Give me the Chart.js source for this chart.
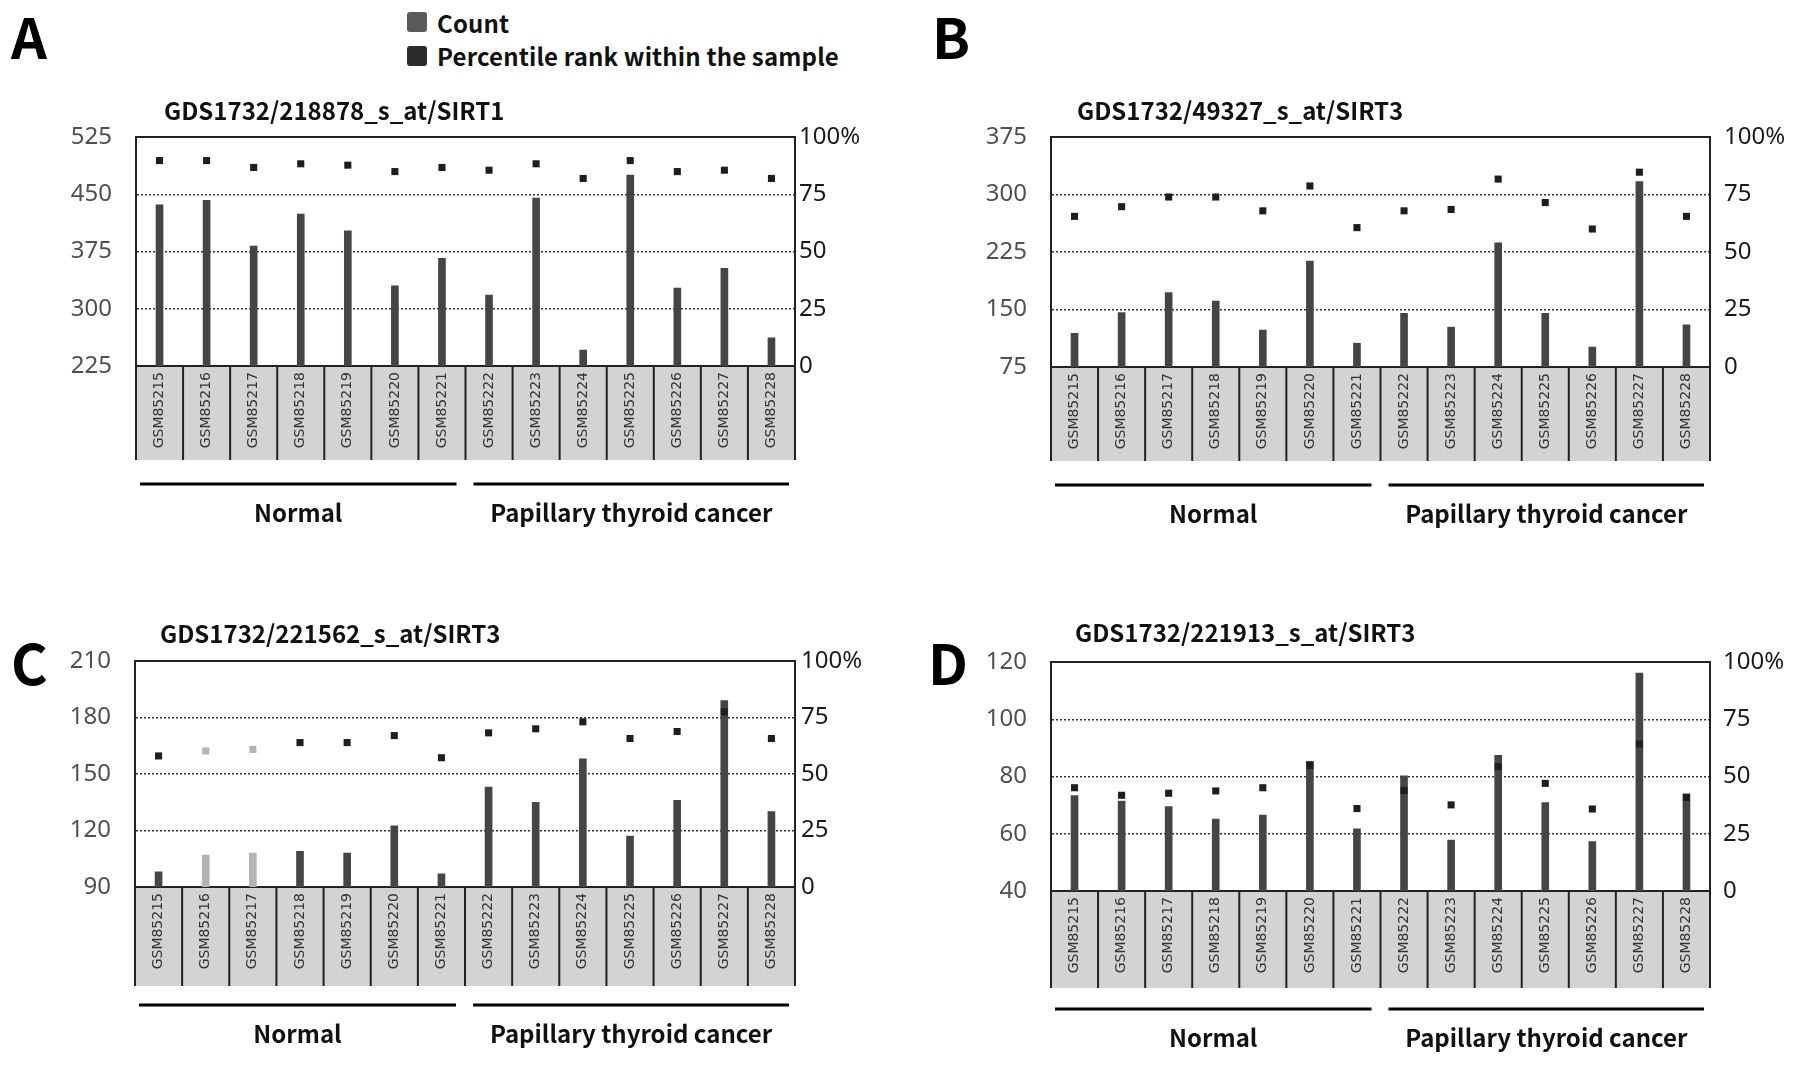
<!DOCTYPE html>
<html>
<head>
<meta charset="utf-8">
<script src="https://cdn.jsdelivr.net/npm/chart.js@4.4.1/dist/chart.umd.min.js"></script>
<style>
  html, body { margin: 0; padding: 0; background: #fff; }
  body { width: 1795px; height: 1065px; position: relative; overflow: hidden;
         font-family: "Noto Sans CJK KR", "Noto Sans", sans-serif; }
  canvas { position: absolute; }
  .txt { position: absolute; white-space: nowrap; }
  .letter { font-size: 56px; font-weight: 700; color: #000; }
  .title { font-size: 24px; font-weight: 700; color: #111; }
  .key { font-size: 24px; font-weight: 700; color: #111; letter-spacing: 0.15px; }
  .swatch { position: absolute; width: 20px; height: 20px; border-radius: 3px; }
</style>
</head>
<body>
<script>
const samples = ['GSM85215', 'GSM85216', 'GSM85217', 'GSM85218', 'GSM85219', 'GSM85220', 'GSM85221',
  'GSM85222', 'GSM85223', 'GSM85224', 'GSM85225', 'GSM85226', 'GSM85227', 'GSM85228'];
const groups = ['Normal', 'Papillary thyroid cancer'];
const groupSize = [7, 7];

// panel A: GDS1732/218878_s_at/SIRT1
const countA = [436, 442, 382, 424, 402, 330, 366, 318, 445, 246, 475, 327, 353, 262];
const rankA = [89.7, 89.7, 86.7, 88.3, 87.7, 84.9, 86.7, 85.5, 88.3, 81.9, 89.7, 84.9, 85.5, 81.9];
// panel B: GDS1732/49327_s_at/SIRT3
const countB = [119, 146, 172, 161, 123, 213, 106, 145, 127, 237, 145, 101, 317, 130];
const rankB = [65.5, 69.7, 73.9, 73.9, 67.9, 78.7, 60.6, 67.9, 68.5, 81.7, 71.5, 60, 84.7, 65.5];
// panel C: GDS1732/221562_s_at/SIRT3
const countC = [98, 107, 108, 109, 108, 122.5, 97, 143, 135, 158, 117, 136, 189, 130];
const rankC = [58, 60.2, 60.9, 63.9, 63.9, 67, 57.2, 68.2, 70, 73.1, 65.7, 68.8, 77.5, 65.7];
// panel D: GDS1732/221913_s_at/SIRT3
const countD = [73.3, 71.4, 69.5, 65.1, 66.5, 85.3, 61.7, 80.2, 57.8, 87.4, 70.9, 57.3, 116.1, 73.9];
const rankD = [45.1, 41.8, 42.7, 43.7, 45.1, 54.8, 36, 43.9, 37.6, 54.3, 47, 35.8, 64.2, 40.9];

// [min, max, step]
const ticksA = [225, 525, 75];
const ticksB = [75, 375, 75];
const ticksC = [90, 210, 30];
const ticksD = [40, 120, 20];
const rankTicks = [0, 100, 25];

const faintC = [1, 2];

const BAR = '#454545', DOT = '#1e1e1e', FAINT = '#b3b3b3';
const TICK_FONT = { family: '"Noto Sans", sans-serif', size: 24 };

function addText(text, cls, x, cy, h) {
  const d = document.createElement('div');
  d.className = 'txt ' + cls;
  d.textContent = text;
  d.style.left = x + 'px';
  d.style.top = (cy - h / 2) + 'px';
  d.style.height = h + 'px';
  d.style.lineHeight = h + 'px';
  document.body.appendChild(d);
}

const boxPlugin = {
  id: 'sampleBoxes',
  beforeDraw(chart, args, opts) {
    const {ctx, chartArea: a, scales: {x}} = chart;
    const half = (x.getPixelForValue(1) - x.getPixelForValue(0)) / 2;
    ctx.save();
    ctx.fillStyle = '#d3d3d3';
    ctx.fillRect(a.left, a.bottom, a.right - a.left, opts.boxH);
    ctx.strokeStyle = '#222';
    ctx.lineWidth = 2;
    for (let i = 0; i <= samples.length; i++) {
      const px = i < samples.length ? x.getPixelForValue(i) - half : a.right;
      ctx.beginPath();
      ctx.moveTo(px, a.bottom);
      ctx.lineTo(px, a.bottom + opts.boxH);
      ctx.stroke();
    }
    ctx.restore();
  },
  afterDraw(chart, args, opts) {
    const {ctx, chartArea: a, scales: {x}} = chart;
    const half = (x.getPixelForValue(1) - x.getPixelForValue(0)) / 2;
    // top frame line
    ctx.save();
    ctx.strokeStyle = '#222';
    ctx.lineWidth = 2;
    ctx.beginPath();
    ctx.moveTo(a.left, a.top);
    ctx.lineTo(a.right, a.top);
    ctx.stroke();
    // group brackets + names
    const inset = [[4, 9], [8, 6]];
    let start = 0;
    groups.forEach((g, k) => {
      const end = start + groupSize[k] - 1;
      const x0 = x.getPixelForValue(start) - half + inset[k][0];
      const x1 = x.getPixelForValue(end) + half - inset[k][1];
      ctx.lineWidth = 3;
      ctx.strokeStyle = '#000';
      ctx.beginPath();
      ctx.moveTo(x0, a.bottom + 118);
      ctx.lineTo(x1, a.bottom + 118);
      ctx.stroke();
      ctx.fillStyle = '#111';
      ctx.font = '700 24px "Noto Sans CJK KR", sans-serif';
      ctx.textAlign = 'center';
      ctx.textBaseline = 'middle';
      ctx.fillText(g, (x0 + x1) / 2, a.bottom + 147);
      start = end + 1;
    });
    ctx.restore();
  }
};

function noOverhang(s) {
  s.paddingTop = 0;
  s.paddingBottom = 0;
}

function makePanel(p) {
  const cv = document.createElement('canvas');
  cv.width = p.w; cv.height = p.h;
  cv.style.left = p.left + 'px';
  cv.style.top = p.top + 'px';
  cv.style.width = p.w + 'px';
  cv.style.height = p.h + 'px';
  document.body.appendChild(cv);

  const [min, max, step] = p.ticks;
  const faint = p.faint || [];
  const barColors = samples.map((s, i) => faint.includes(i) ? FAINT : BAR);
  const dotColors = samples.map((s, i) => faint.includes(i) ? FAINT : DOT);

  new Chart(cv, {
    type: 'bar',
    data: {
      labels: samples,
      datasets: [
        { type: 'line', label: 'Percentile rank within the sample', data: p.rank, yAxisID: 'y1',
          showLine: false, pointStyle: 'rect', pointRadius: 5, pointBorderWidth: 0,
          pointBackgroundColor: dotColors, order: 0 },
        { type: 'bar', label: 'Count', data: p.count, yAxisID: 'y',
          backgroundColor: barColors, barThickness: 7, order: 1 }
      ]
    },
    options: {
      responsive: false,
      animation: false,
      devicePixelRatio: 1,
      layout: { padding: { left: 0, right: 0, top: p.padTop, bottom: p.h - p.padTop - p.plotH - p.boxH } },
      plugins: {
        legend: { display: false },
        tooltip: { enabled: false },
        sampleBoxes: { boxH: p.boxH }
      },
      scales: {
        x: {
          grid: { display: false, drawTicks: false },
          border: { display: true, color: '#222', width: 2 },
          ticks: { autoSkip: false, minRotation: 90, maxRotation: 90, padding: 6, color: '#333',
                   font: { family: '"DejaVu Sans", sans-serif', size: 14 } },
          afterFit: s => { s.height = p.boxH; s.paddingLeft = 0; s.paddingRight = 0; }
        },
        y: {
          position: 'left', min: min, max: max,
          ticks: { stepSize: step, padding: 24, color: '#505050', font: TICK_FONT },
          grid: { drawTicks: false, lineWidth: 1.5,
                  color: c => (c.tick.value === min || c.tick.value === max) ? 'rgba(0,0,0,0)' : '#333' },
          border: { color: '#222', width: 2, dash: [2, 2] },
          afterFit: s => { s.width = p.leftW; noOverhang(s); }
        },
        y1: {
          position: 'right', min: rankTicks[0], max: rankTicks[1],
          ticks: { stepSize: rankTicks[2], padding: p.rightPad, color: '#1a1a1a', font: TICK_FONT,
                   callback: v => v === 100 ? '100%' : v },
          grid: { display: false, drawTicks: false },
          border: { color: '#222', width: 2 },
          afterFit: s => { s.width = p.rightW; noOverhang(s); }
        }
      }
    },
    plugins: [boxPlugin]
  });
}

makePanel({ left: 0, top: 120, w: 890, h: 420, leftW: 136, rightW: 95, padTop: 17, plotH: 229, boxH: 94,
  rightPad: 4, ticks: ticksA, count: countA, rank: rankA });
makePanel({ left: 900, top: 120, w: 895, h: 420, leftW: 151, rightW: 85, padTop: 17, plotH: 230, boxH: 94,
  rightPad: 14, ticks: ticksB, count: countB, rank: rankB });
makePanel({ left: 0, top: 640, w: 890, h: 420, leftW: 135, rightW: 95, padTop: 21, plotH: 226, boxH: 99,
  rightPad: 6, ticks: ticksC, count: countC, rank: rankC, faint: faintC });
makePanel({ left: 900, top: 640, w: 895, h: 420, leftW: 151, rightW: 85, padTop: 22, plotH: 229, boxH: 97,
  rightPad: 13, ticks: ticksD, count: countD, rank: rankD });

addText('A', 'letter', 11, 35, 70);
addText('B', 'letter', 932, 35, 70);
addText('C', 'letter', 11, 661, 70);
addText('D', 'letter', 928, 661, 70);

addText('GDS1732/218878_s_at/SIRT1', 'title', 164, 110, 40);
addText('GDS1732/49327_s_at/SIRT3', 'title', 1077, 110, 40);
addText('GDS1732/221562_s_at/SIRT3', 'title', 160, 633, 40);
addText('GDS1732/221913_s_at/SIRT3', 'title', 1075, 632, 40);

// legend
const sw1 = document.createElement('div');
sw1.className = 'swatch'; sw1.style.left = '407px'; sw1.style.top = '12px'; sw1.style.background = '#5a5a5a';
const sw2 = document.createElement('div');
sw2.className = 'swatch'; sw2.style.left = '407px'; sw2.style.top = '46px'; sw2.style.background = '#2b2b2b';
document.body.appendChild(sw1);
document.body.appendChild(sw2);
addText('Count', 'key', 437, 23, 40);
addText('Percentile rank within the sample', 'key', 437, 56, 40);
</script>
</body>
</html>
